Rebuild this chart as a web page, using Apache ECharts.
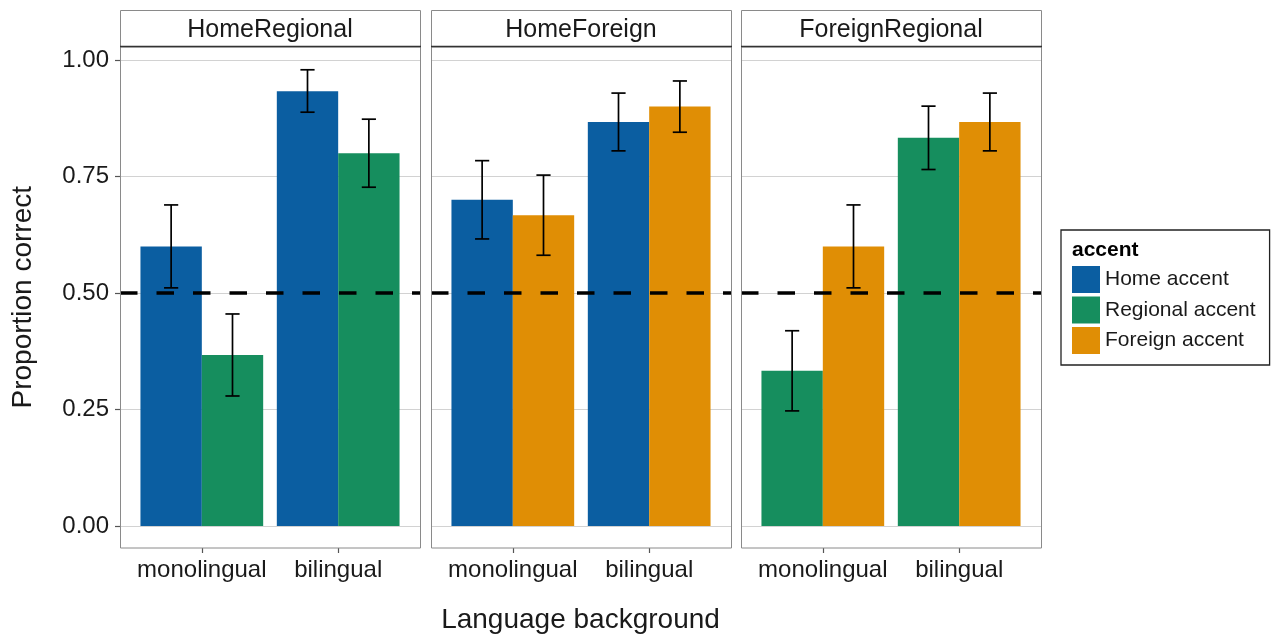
<!DOCTYPE html>
<html>
<head>
<meta charset="utf-8">
<script src="https://cdn.jsdelivr.net/npm/echarts@6/dist/echarts.min.js"></script>
<style>
  html, body { margin: 0; padding: 0; background: #fff; }
  #chart { width: 1271px; height: 637px; }
</style>
</head>
<body>
<div id="chart"></div>
<script>
// Facets, x groups and fill legend
const facetNames = ['HomeRegional', 'HomeForeign', 'ForeignRegional'];
const groupNames = ['monolingual', 'bilingual'];
const accentNames = ['Home accent', 'Regional accent', 'Foreign accent'];
// Which two accents appear in each facet (left bar, right bar)
const facetAccents = [[0, 1], [0, 2], [1, 2]];

// Proportion correct, [left accent, right accent] x [monolingual, bilingual]
const homeRegionalMean = [[0.600, 0.933], [0.367, 0.800]];
const homeRegionalLow  = [[0.511, 0.888], [0.279, 0.727]];
const homeRegionalHigh = [[0.689, 0.979], [0.455, 0.873]];

const homeForeignMean = [[0.700, 0.867], [0.667, 0.900]];
const homeForeignLow  = [[0.616, 0.805], [0.581, 0.845]];
const homeForeignHigh = [[0.784, 0.929], [0.753, 0.955]];

const foreignRegionalMean = [[0.333, 0.833], [0.600, 0.867]];
const foreignRegionalLow  = [[0.247, 0.765], [0.511, 0.805]];
const foreignRegionalHigh = [[0.419, 0.901], [0.689, 0.929]];

// Chance level reference line
const chanceLevel = 0.5;

const means = [homeRegionalMean, homeForeignMean, foreignRegionalMean];
const lows = [homeRegionalLow, homeForeignLow, foreignRegionalLow];
const highs = [homeRegionalHigh, homeForeignHigh, foreignRegionalHigh];

// Styling / layout
const FONT = '"Liberation Sans", Arial, Helvetica, sans-serif';
const TEXT = '#1a1a1a';
const accentColors = ['#0b5ea1', '#168e5e', '#e08e05'];
const panelLeft = [120, 431, 741];
const panelWidth = 300;
const stripTop = 10, stripBottom = 46.5, panelBottom = 548;
const plotTop = 60, plotHeight = 466;
const xMin = 0.4, xMax = 2.6;
const barWidth = 0.45;     // each dodged bar, in x units
const capHalf = 0.052;     // half width of error bar caps

const chart = echarts.init(document.getElementById('chart'), null, { renderer: 'canvas' });

// Grids 0..2 hold the data (value 0..1 between plotTop and plotTop+plotHeight);
// grids 3..5 share the same horizontal extent and carry the x axis at the panel bottom.
const grids = [];
panelLeft.forEach(l => grids.push({
  left: l, top: plotTop, width: panelWidth, height: plotHeight,
  containLabel: false, outerBoundsMode: 'none'
}));
panelLeft.forEach(l => grids.push({
  left: l, top: plotTop, width: panelWidth, height: panelBottom - plotTop,
  containLabel: false, outerBoundsMode: 'none'
}));

const xAxes = [];
const yAxes = [];
panelLeft.forEach((l, i) => {
  xAxes.push({
    type: 'value', gridIndex: i, min: xMin, max: xMax, show: false
  });
  yAxes.push({
    type: 'value', gridIndex: i, min: 0, max: 1, interval: 0.25,
    axisLine: { show: false },
    axisTick: { show: i === 0, length: 5, lineStyle: { color: '#555', width: 1.2 } },
    axisLabel: {
      show: i === 0, margin: 11,
      formatter: v => v.toFixed(2),
      fontSize: 24, color: TEXT, fontFamily: FONT
    },
    splitLine: { show: true, lineStyle: { color: '#d2d2d2', width: 1.2 } }
  });
});
panelLeft.forEach((l, i) => {
  xAxes.push({
    type: 'value', gridIndex: 3 + i, min: xMin, max: xMax,
    axisLine: { show: false },
    splitLine: { show: false },
    axisTick: { show: true, customValues: [1, 2], length: 5, lineStyle: { color: '#555', width: 1.2 } },
    axisLabel: {
      customValues: [1, 2], margin: 10,
      formatter: v => groupNames[Math.round(v) - 1],
      fontSize: 24, color: TEXT, fontFamily: FONT
    }
  });
  yAxes.push({
    type: 'value', gridIndex: 3 + i, min: 0, max: 1, show: false,
    splitLine: { show: false }
  });
});

const series = [];
facetNames.forEach((f, i) => {
  facetAccents[i].forEach((a, j) => {
    const color = accentColors[a];
    series.push({
      type: 'custom',
      name: accentNames[a],
      xAxisIndex: i, yAxisIndex: i,
      itemStyle: { color: color },
      encode: { x: 0, y: 1 },
      z: 2,
      data: groupNames.map((g, k) => [k + 1, means[i][j][k], lows[i][j][k], highs[i][j][k]]),
      renderItem: (params, api) => {
        const x = api.value(0), m = api.value(1), lo = api.value(2), hi = api.value(3);
        const x0 = x + (j === 0 ? -barWidth : 0);
        const x1 = x0 + barWidth;
        const xc = x0 + barWidth / 2;
        const b0 = api.coord([x0, 0]);
        const b1 = api.coord([x1, m]);
        const top = api.coord([xc, hi]);
        const bot = api.coord([xc, lo]);
        const capL = api.coord([xc - capHalf, hi])[0];
        const capR = api.coord([xc + capHalf, hi])[0];
        const ls = { stroke: '#000', lineWidth: 1.7 };
        return {
          type: 'group',
          children: [
            { type: 'rect', shape: { x: b0[0], y: b1[1], width: b1[0] - b0[0], height: b0[1] - b1[1] },
              style: { fill: color } },
            { type: 'line', shape: { x1: top[0], y1: top[1], x2: bot[0], y2: bot[1] }, style: ls },
            { type: 'line', shape: { x1: capL, y1: top[1], x2: capR, y2: top[1] }, style: ls },
            { type: 'line', shape: { x1: capL, y1: bot[1], x2: capR, y2: bot[1] }, style: ls }
          ]
        };
      }
    });
  });
  // dashed chance line across the panel
  series.push({
    type: 'line', name: 'chance', xAxisIndex: i, yAxisIndex: i,
    data: [[xMin, chanceLevel], [xMax, chanceLevel]],
    symbol: 'none', silent: true, z: 5,
    lineStyle: { color: '#000', width: 3.6, type: [17.5, 19] }
  });
});

const graphics = [];
panelLeft.forEach((l, i) => {
  graphics.push({
    type: 'rect', z: 10, silent: true,
    shape: { x: l + 0.5, y: stripTop + 0.5, width: panelWidth, height: stripBottom - stripTop },
    style: { fill: '#fff', stroke: '#8a8a8a', lineWidth: 1 }
  });
  graphics.push({
    type: 'rect', z: 10, silent: true,
    shape: { x: l + 0.5, y: stripBottom, width: panelWidth, height: panelBottom - stripBottom },
    style: { fill: 'none', stroke: '#8a8a8a', lineWidth: 1 }
  });
  graphics.push({
    type: 'line', z: 11, silent: true,
    shape: { x1: l, y1: stripBottom, x2: l + panelWidth + 1, y2: stripBottom },
    style: { stroke: '#333', lineWidth: 1.6 }
  });
  graphics.push({
    type: 'text', z: 12, silent: true,
    x: l + panelWidth / 2, y: 30,
    style: { text: facetNames[i], fill: TEXT, font: '25px ' + FONT, align: 'center', verticalAlign: 'middle' }
  });
});
graphics.push({
  type: 'text', silent: true,
  x: (panelLeft[0] + panelLeft[2] + panelWidth) / 2, y: 620,
  style: { text: 'Language background', fill: TEXT, font: '28px ' + FONT, align: 'center', verticalAlign: 'middle' }
});
graphics.push({
  type: 'text', silent: true,
  x: 23, y: (stripBottom + panelBottom) / 2, rotation: Math.PI / 2,
  style: { text: 'Proportion correct', fill: TEXT, font: '28px ' + FONT, align: 'center', verticalAlign: 'middle' }
});
graphics.push({
  type: 'text', silent: true, z: 20,
  x: 1072, y: 250,
  style: { text: 'accent', fill: '#000', font: 'bold 21px ' + FONT, align: 'left', verticalAlign: 'middle' }
});

chart.setOption({
  animation: false,
  backgroundColor: '#fff',
  grid: grids,
  xAxis: xAxes,
  yAxis: yAxes,
  legend: {
    data: accentNames, orient: 'vertical', left: 1061, top: 230,
    icon: 'rect', itemWidth: 28, itemHeight: 27, itemGap: 3.5,
    padding: [36, 14, 11, 11],
    borderColor: '#222', borderWidth: 1.3,
    selectedMode: false,
    textStyle: { fontSize: 21, color: TEXT, fontFamily: FONT }
  },
  graphic: graphics,
  series: series
});
</script>
</body>
</html>
